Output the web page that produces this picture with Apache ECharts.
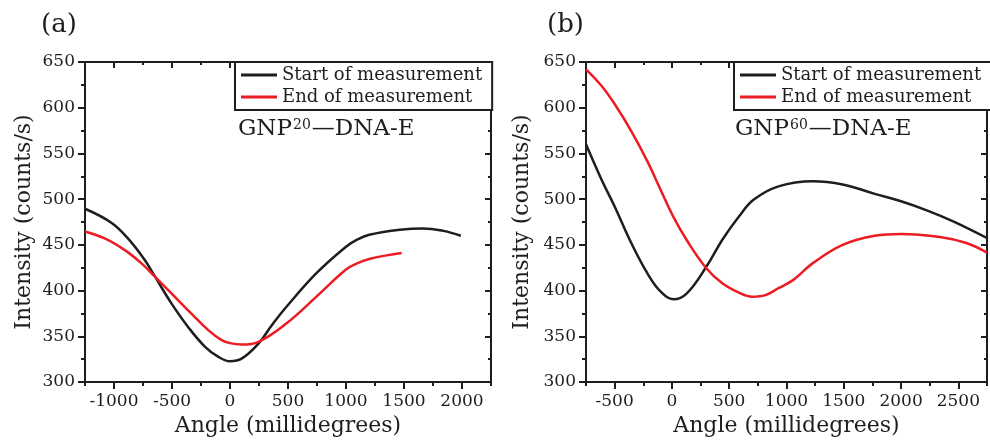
<!DOCTYPE html>
<html>
<head>
<meta charset="utf-8">
<title>SPR angle scans</title>
<script src="https://cdn.jsdelivr.net/npm/echarts@6/dist/echarts.min.js"></script>
<style>
  html, body { margin: 0; padding: 0; background: #ffffff; }
  #chart { width: 990px; height: 443px; }
</style>
</head>
<body>
<div id="chart"></div>
<script>
// Angle (millidegrees) vs intensity (counts/s) pairs, per panel and measurement.
const gnp20Start = [
  [-1250, 489.5], [-1020, 474], [-880, 457], [-735, 433.5], [-650, 416],
  [-505, 386], [-360, 360], [-215, 338.5], [-100, 327.5], [0, 322.7],
  [100, 325.5], [245, 342], [360, 362], [485, 382], [745, 419],
  [1000, 448], [1100, 456], [1200, 461], [1465, 466.5], [1665, 468],
  [1840, 465.3], [1990, 460]
];
const gnp20End = [
  [-1250, 464.6], [-1080, 457], [-910, 444.5], [-765, 430], [-650, 415.5],
  [-505, 397], [-335, 375], [-190, 357], [-75, 346], [0, 342.5],
  [100, 341], [245, 344], [485, 364], [745, 393.3], [1000, 423],
  [1100, 430], [1200, 434.5], [1350, 438.5], [1480, 441]
];
const gnp60Start = [
  [-750, 560], [-615, 521.5], [-500, 492], [-355, 452], [-215, 419],
  [-100, 399], [15, 390.5], [130, 397], [300, 426], [440, 455.6],
  [585, 481], [715, 499.5], [930, 514], [1230, 519.6], [1490, 516],
  [1770, 505.8], [2000, 497.7], [2230, 487.5], [2455, 475.7], [2750, 457.5]
];
const gnp60End = [
  [-750, 642], [-615, 624], [-500, 604], [-355, 574.5], [-215, 541.6],
  [-100, 510.5], [15, 480], [130, 455], [300, 424.5], [440, 408],
  [585, 397.7], [700, 393.3], [815, 395], [930, 402.6], [1060, 411.7],
  [1230, 430], [1490, 450], [1770, 460], [2000, 462], [2340, 458.6],
  [2570, 452], [2750, 441.5]
];

// Axis ranges and labelled ticks
const xRangeA = [-1250, 2250];
const xRangeB = [-750, 2750];
const xTicksA = [-1000, -500, 0, 500, 1000, 1500, 2000];
const xTicksB = [-500, 0, 500, 1000, 1500, 2000, 2500];
const yRange = [300, 650];

const seriesNames = ['Start of measurement', 'End of measurement'];
const panelLabels = ['(a)', '(b)'];
const sampleNames = [['GNP', '20', '—DNA-E'], ['GNP', '60', '—DNA-E']];

const INK = '#1e1e1e';
const RED = '#ec1c24';
const FONT = 'DejaVu Serif';

const chart = echarts.init(document.getElementById('chart'), null, { renderer: 'canvas' });

function xAxesFor(gridIndex, range, ticks) {
  const base = { type: 'value', gridIndex, min: range[0], max: range[1], interval: 250, splitLine: { show: false } };
  return [
    // bottom: line, minor ticks and labels
    Object.assign({}, base, {
      position: 'bottom',
      name: 'Angle (millidegrees)', nameLocation: 'middle', nameGap: 30,
      nameTextStyle: { fontFamily: FONT, fontSize: 22, color: INK },
      axisLine: { show: true, onZero: false, lineStyle: { color: INK, width: 2 } },
      axisTick: { show: true, inside: false, length: 4, lineStyle: { color: INK, width: 2 } },
      axisLabel: {
        show: true, margin: 11, fontFamily: FONT, fontSize: 17, color: INK,
        formatter: v => (ticks.indexOf(v) >= 0 ? String(v) : '')
      }
    }),
    // bottom: longer major ticks
    Object.assign({}, base, {
      position: 'bottom',
      axisLine: { show: false, onZero: false },
      axisTick: { show: true, inside: false, length: 7, customValues: ticks, lineStyle: { color: INK, width: 2 } },
      axisLabel: { show: false }
    }),
    // top frame with inward ticks
    Object.assign({}, base, {
      position: 'top',
      axisLine: { show: true, onZero: false, lineStyle: { color: INK, width: 2 } },
      axisTick: { show: true, inside: true, length: 3, lineStyle: { color: INK, width: 2 } },
      axisLabel: { show: false }
    }),
    Object.assign({}, base, {
      position: 'top',
      axisLine: { show: false, onZero: false },
      axisTick: { show: true, inside: true, length: 6, customValues: ticks, lineStyle: { color: INK, width: 2 } },
      axisLabel: { show: false }
    })
  ];
}

function yAxesFor(gridIndex, nameGap) {
  const base = {
    type: 'value', gridIndex, min: yRange[0], max: yRange[1], interval: 50,
    splitLine: { show: false },
    minorTick: { show: true, splitNumber: 2, length: 4, lineStyle: { color: INK, width: 2 } }
  };
  return [
    Object.assign({}, base, {
      position: 'left',
      name: 'Intensity (counts/s)', nameLocation: 'middle', nameGap,
      nameTextStyle: { fontFamily: FONT, fontSize: 22, color: INK },
      axisLine: { show: true, onZero: false, lineStyle: { color: INK, width: 2 } },
      axisTick: { show: true, inside: false, length: 7, lineStyle: { color: INK, width: 2 } },
      axisLabel: { show: true, margin: 10, fontFamily: FONT, fontSize: 17, color: INK }
    }),
    Object.assign({}, base, {
      position: 'right',
      axisLine: { show: true, onZero: false, lineStyle: { color: INK, width: 2 } },
      axisTick: { show: true, inside: true, length: 6, lineStyle: { color: INK, width: 2 } },
      minorTick: { show: true, splitNumber: 2, length: 3, lineStyle: { color: INK, width: 2 } },
      axisLabel: { show: false }
    })
  ];
}

const xAxes = xAxesFor(0, xRangeA, xTicksA).concat(xAxesFor(1, xRangeB, xTicksB));
const yAxes = yAxesFor(0, 50).concat(yAxesFor(1, 53));

function line(name, data, color, xIdx, yIdx) {
  return {
    type: 'line', name, data, xAxisIndex: xIdx, yAxisIndex: yIdx,
    smooth: 0.4, symbol: 'none', showSymbol: false,
    lineStyle: { color, width: 2.5 }, itemStyle: { color },
    emphasis: { disabled: true }, z: 3
  };
}

function legendAt(left) {
  return {
    data: seriesNames.map(name => ({ name, icon: 'rect' })),
    orient: 'vertical', left, top: 62,
    itemWidth: 36, itemHeight: 3, itemGap: 4,
    padding: [4, 10, 4, 6],
    backgroundColor: '#ffffff', borderColor: INK, borderWidth: 2, borderRadius: 0,
    textStyle: { fontFamily: FONT, fontSize: 18, color: INK, lineHeight: 18 },
    selectedMode: false
  };
}

function sampleText(parts, left) {
  return {
    type: 'text', left, top: 118, z: 10,
    style: {
      text: '{m|' + parts[0] + '}{s|' + parts[1] + '}{m|' + parts[2] + '}',
      fill: INK,
      rich: {
        m: { fontFamily: FONT, fontSize: 23, fill: INK, lineHeight: 26 },
        s: { fontFamily: FONT, fontSize: 14, fill: INK, padding: [0, 1, 9, 1] }
      }
    }
  };
}

const option = {
  backgroundColor: '#ffffff',
  animation: false,
  grid: [
    { left: 85, top: 62, width: 406, height: 320 },
    { left: 586, top: 62, width: 403, height: 320 }
  ],
  xAxis: xAxes,
  yAxis: yAxes,
  legend: [legendAt(235), legendAt(734)],
  series: [
    line(seriesNames[0], gnp20Start, INK, 0, 0),
    line(seriesNames[1], gnp20End, RED, 0, 0),
    line(seriesNames[0], gnp60Start, INK, 4, 2),
    line(seriesNames[1], gnp60End, RED, 4, 2)
  ],
  graphic: [
    { type: 'text', left: 41, top: 12, style: { text: panelLabels[0], fontFamily: FONT, fontSize: 26, fill: INK } },
    { type: 'text', left: 547, top: 12, style: { text: panelLabels[1], fontFamily: FONT, fontSize: 26, fill: INK } },
    sampleText(sampleNames[0], 238),
    sampleText(sampleNames[1], 735)
  ]
};

chart.setOption(option);
</script>
</body>
</html>
